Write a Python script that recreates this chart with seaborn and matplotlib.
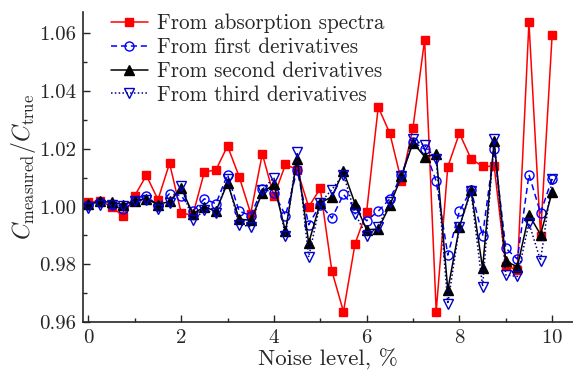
import numpy as np
import pandas as pd
import matplotlib
matplotlib.use("Agg")
import matplotlib.pyplot as plt
import seaborn as sns
from matplotlib.ticker import MultipleLocator, FormatStrFormatter

noise = [i * 0.25 for i in range(41)]

absorption = [1.0015, 1.002, 1.000, 0.9966, 1.0038, 1.0108, 1.0024, 1.015, 0.9978, 0.997,
              1.012, 1.0127, 1.021, 1.0104, 0.9976, 1.0183, 1.0036, 1.0146, 1.0128, 0.9999,
              1.0063, 0.9777, 0.9636, 0.9871, 0.9983, 1.0345, 1.0254, 1.0088, 1.0274, 1.0578,
              0.9636, 1.0138, 1.0254, 1.0166, 1.0139, 1.014, 0.9795, 0.978, 1.0639, 0.9899,
              1.0595]

first_deriv = [1.0007, 1.0015, 1.0007, 0.999, 1.0018, 1.0038, 1.0003, 1.0045, 1.0038, 0.9984,
               1.0027, 1.001, 1.0111, 0.9984, 0.9969, 1.0062, 1.0048, 0.9969, 1.0127, 0.9937,
               1.0007, 0.996, 1.0042, 0.9995, 0.9951, 0.9984, 1.0027, 1.0108, 1.0224, 1.0199,
               1.0088, 0.9832, 0.9984, 1.0058, 0.9899, 1.0198, 0.9856, 0.9818, 1.0111, 0.9978,
               1.0097]

second_deriv = [1.0008, 1.0018, 1.0015, 1.0007, 1.002, 1.0027, 1.0007, 1.0018, 1.0065, 0.9975,
                0.9999, 0.9984, 1.0082, 0.9957, 0.9952, 1.0048, 1.0077, 0.9914, 1.0166, 0.9874,
                1.0013, 1.0034, 1.0123, 1.001, 0.992, 0.9922, 1.0004, 1.0105, 1.0222, 1.0173,
                1.0181, 0.9711, 0.9929, 1.0059, 0.9787, 1.0227, 0.981, 0.9792, 0.9972, 0.9903,
                1.005]

third_deriv = [0.9995, 1.0007, 1.0007, 1.0001, 1.0018, 1.0024, 0.999, 1.0013, 1.007, 0.9952,
               0.9987, 0.9978, 1.0094, 0.9937, 0.9931, 1.0059, 1.01, 0.9897, 1.0188, 0.9825,
               1.0013, 1.0059, 1.0111, 0.9976, 0.9897, 0.9931, 1.0015, 1.0105, 1.0233, 1.0212,
               1.0166, 0.9663, 0.9929, 1.0053, 0.9723, 1.0233, 0.9763, 0.9758, 0.9943, 0.9813,
               1.0096]

labels = ["From absorption spectra", "From first derivatives",
          "From second derivatives", "From third derivatives"]

sns.set_style("ticks")
plt.rcParams["font.family"] = ["cmr10", "DejaVu Serif"]
plt.rcParams["mathtext.fontset"] = "cm"
plt.rcParams["axes.formatter.use_mathtext"] = True

fig = plt.figure(figsize=(5.73, 3.76), dpi=100)
ax = fig.add_axes([0.1454, 0.1428, 0.8546, 0.825])

df = pd.DataFrame({"noise": noise, "abs": absorption, "d1": first_deriv,
                   "d2": second_deriv, "d3": third_deriv})

styles = [
    ("abs", dict(color="#ff0000", linestyle="-", marker="s", markersize=6,
                 markerfacecolor="#ff0000", markeredgecolor="#ff0000")),
    ("d1", dict(color="#0000ff", linestyle=(0, (4, 2.5)), marker="o", markersize=6.5,
                markerfacecolor="none", markeredgecolor="#0000ff")),
    ("d2", dict(color="black", linestyle="-", marker="^", markersize=7,
                markerfacecolor="black", markeredgecolor="black")),
    ("d3", dict(color="#000080", linestyle=(0, (1, 1.5)), marker="v", markersize=7.5,
                markerfacecolor="none", markeredgecolor="#0000cc")),
]
for (col, kw), lab in zip(styles, labels):
    sns.lineplot(data=df, x="noise", y=col, ax=ax, label=lab, linewidth=1.1,
                 markeredgewidth=1.0, **kw)

ax.set_xlim(-0.11, 10.45)
ax.set_ylim(0.9599, 1.0674)
ax.xaxis.set_major_locator(MultipleLocator(2))
ax.xaxis.set_minor_locator(MultipleLocator(1))
ax.yaxis.set_major_locator(MultipleLocator(0.02))
ax.yaxis.set_minor_locator(MultipleLocator(0.01))
ax.yaxis.set_major_formatter(FormatStrFormatter("%.2f"))
ax.tick_params(which="major", direction="in", length=5, width=1, labelsize=15, pad=5)
ax.tick_params(which="minor", direction="in", length=3, width=1)
for s in ["top", "right"]:
    ax.spines[s].set_visible(False)
for s in ["left", "bottom"]:
    ax.spines[s].set_linewidth(1.2)

ax.set_xlabel("Noise level, %", fontsize=16.5, labelpad=1)
ax.set_ylabel(r"$C_{\mathrm{measured}}/C_{\mathrm{true}}$", fontsize=17, labelpad=1)

leg = ax.legend(loc="upper left", bbox_to_anchor=(0.03, 1.035), frameon=False,
                fontsize=15.2, handlelength=1.75, handletextpad=0.45,
                labelspacing=0.2, borderaxespad=0.2)

fig.savefig("out.png", dpi=100)
